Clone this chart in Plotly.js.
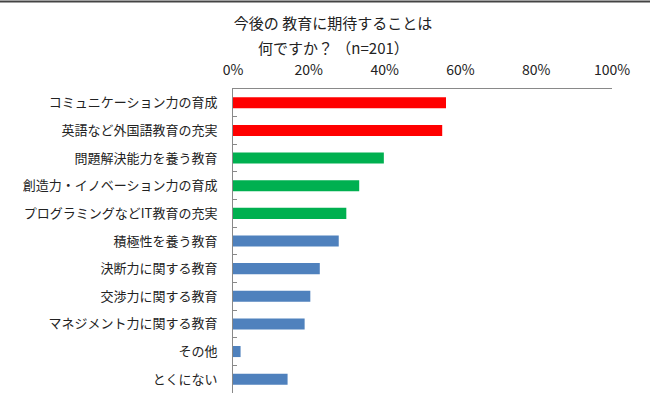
<!DOCTYPE html>
<html>
<head>
<meta charset="utf-8">
<script src="https://cdn.plot.ly/plotly-3.0.1.min.js"></script>
<style>
  html, body { margin: 0; padding: 0; background: #fff; }
  #chart { width: 650px; height: 406px; }
</style>
</head>
<body>
<div id="chart"></div>
<script>
// 今後の教育に期待すること (n=201), 回答率 %
const categories = [
    'コミュニケーション力の育成',
    '英語など外国語教育の充実',
    '問題解決能力を養う教育',
    '創造力・イノベーション力の育成',
    'プログラミングなどIT教育の充実',
    '積極性を養う教育',
    '決断力に関する教育',
    '交渉力に関する教育',
    'マネジメント力に関する教育',
    'その他',
    'とくにない'
];
const shares = [56.2, 55.2, 39.8, 33.3, 29.9, 27.9, 22.9, 20.4, 18.9, 2.0, 14.4];
const barColors = [
    '#ff0000', '#ff0000',
    '#00b050', '#00b050', '#00b050',
    '#4f81bd', '#4f81bd', '#4f81bd', '#4f81bd', '#4f81bd', '#4f81bd'
];
const xTicks = [0, 20, 40, 60, 80, 100];

const FONT = '"Noto Sans CJK JP", "Noto Sans", sans-serif';

const trace = {
    type: 'bar',
    orientation: 'h',
    x: shares,
    y: categories,
    marker: { color: barColors, line: { width: 0 } },
    hoverinfo: 'x+y'
};

const layout = {
    width: 650,
    height: 406,
    margin: { l: 233, r: 38, t: 89, b: 13 },
    paper_bgcolor: '#ffffff',
    plot_bgcolor: '#ffffff',
    font: { family: FONT, color: '#222222', size: 13 },
    showlegend: false,
    bargap: 0.6,
    title: {
        text: '今後の 教育に期待することは',
        font: { family: FONT, size: 15, color: '#222222' },
        xref: 'container', x: 333 / 650, xanchor: 'center',
        yref: 'container', y: 1 - 24 / 406, yanchor: 'middle'
    },
    annotations: [{
        text: '何ですか？ （n=201）',
        xref: 'paper', x: (333 - 233) / 379, xanchor: 'center',
        yref: 'paper', y: 1 + (89 - 47) / 304, yanchor: 'middle',
        showarrow: false,
        font: { family: FONT, size: 15, color: '#222222' }
    }],
    xaxis: {
        side: 'top',
        range: [0, 100],
        tickvals: xTicks,
        ticktext: xTicks.map(v => v + '%'),
        ticks: '',
        ticklabelstandoff: 7,
        tickfont: { family: FONT, size: 14, color: '#222222' },
        showgrid: false,
        zeroline: false,
        showline: true,
        linecolor: '#898989',
        linewidth: 1,
        fixedrange: true
    },
    yaxis: {
        type: 'category',
        autorange: false,
        range: [categories.length - 0.5, -0.5],
        ticks: 'inside',
        tickson: 'boundaries',
        ticklen: 4,
        tickcolor: '#898989',
        ticklabelstandoff: 12,
        tickfont: { family: FONT, size: 13, color: '#222222' },
        showgrid: false,
        zeroline: false,
        showline: true,
        linecolor: '#898989',
        linewidth: 1,
        fixedrange: true
    },
    shapes: [{
        // dark rule along the top edge of the image
        type: 'line', xref: 'paper', yref: 'paper',
        x0: -233 / 379, x1: 1 + 38 / 379,
        y0: 1 + 87.5 / 304, y1: 1 + 87.5 / 304,
        line: { color: '#444444', width: 2 }
    }]
};

Plotly.newPlot('chart', [trace], layout, { displayModeBar: false, staticPlot: true });
</script>
</body>
</html>
